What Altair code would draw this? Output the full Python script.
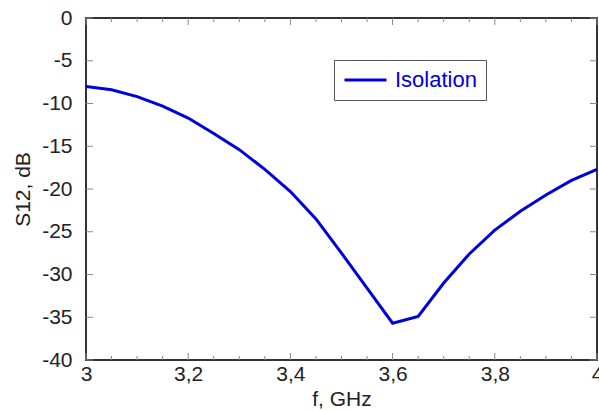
import altair as alt
import pandas as pd

freq = [3.00, 3.05, 3.10, 3.15, 3.20, 3.25, 3.30, 3.35, 3.40, 3.45, 3.50,
        3.55, 3.60, 3.65, 3.70, 3.75, 3.80, 3.85, 3.90, 3.95, 4.00]
s12 = [-8.0, -8.4, -9.2, -10.3, -11.7, -13.5, -15.4, -17.7, -20.3, -23.5, -27.5,
       -31.6, -35.7, -34.9, -31.0, -27.6, -24.8, -22.6, -20.7, -19.0, -17.7]
series = ["Isolation"] * len(freq)

x_major = [3.0, 3.2, 3.4, 3.6, 3.8, 4.0]
x_minor = [3.05, 3.1, 3.15, 3.25, 3.3, 3.35, 3.45, 3.5, 3.55, 3.65, 3.7, 3.75, 3.85, 3.9, 3.95]
y_major = [0, -5, -10, -15, -20, -25, -30, -35, -40]

W, H = 511, 342
FONT = "Liberation Sans"
BLUE = "#0000DD"
TICK = "#888888"

df = pd.DataFrame({"f": freq, "s12": s12, "series": series})
xmaj = pd.DataFrame({"t": x_major})
xmin = pd.DataFrame({"t": x_minor})
ymaj = pd.DataFrame({"t": y_major})

xscale = alt.Scale(domain=[3, 4], nice=False, zero=False)
yscale = alt.Scale(domain=[-40, 0], nice=False, zero=False)

line = alt.Chart(df).mark_line(strokeWidth=3, clip=True).encode(
    x=alt.X("f:Q", scale=xscale,
            axis=alt.Axis(values=x_major, title="f, GHz", ticks=False, domain=False,
                          grid=False, labelFlush=False, labelOverlap=False, labelBound=False,
                          labelExpr="replace(format(datum.value, '.1~f'), '.', ',')",
                          labelPadding=3, titlePadding=4)),
    y=alt.Y("s12:Q", scale=yscale,
            axis=alt.Axis(values=y_major, title="S12, dB", ticks=False, domain=False,
                          grid=False, labelPadding=14, titlePadding=8,
                          labelExpr="'' + datum.value")),
    color=alt.Color("series:N",
                    scale=alt.Scale(domain=["Isolation"], range=[BLUE]),
                    legend=alt.Legend(title=None, orient="none", legendX=248, legendY=42,
                                      symbolType="stroke", symbolSize=1764,
                                      symbolStrokeWidth=3, labelFontSize=22,
                                      labelColor=BLUE, labelFont=FONT, labelOffset=7,
                                      padding=9, strokeColor="#555555",
                                      fillColor="white", clipHeight=22)),
)

def xticks(data, length):
    bottom = alt.Chart(data).mark_rule(color=TICK, strokeWidth=1).encode(
        x=alt.X("t:Q", scale=xscale), y=alt.value(H), y2=alt.value(H - length))
    top = alt.Chart(data).mark_rule(color=TICK, strokeWidth=1).encode(
        x=alt.X("t:Q", scale=xscale), y=alt.value(0), y2=alt.value(length))
    return [bottom, top]

yl = alt.Chart(ymaj).mark_rule(color=TICK, strokeWidth=1).encode(
    y=alt.Y("t:Q", scale=yscale), x=alt.value(0), x2=alt.value(7))
yr = alt.Chart(ymaj).mark_rule(color=TICK, strokeWidth=1).encode(
    y=alt.Y("t:Q", scale=yscale), x=alt.value(W), x2=alt.value(W - 7))

chart = alt.layer(
    *xticks(xmaj, 7), *xticks(xmin, 4), yl, yr, line
).properties(
    width=W, height=H,
    background="white",
    autosize=alt.AutoSizeParams(type="none"),
    padding={"left": 86, "top": 18, "right": 2, "bottom": 51},
).configure_view(
    stroke="#333333", strokeWidth=2
).configure_axis(
    labelFont=FONT, titleFont=FONT, labelFontSize=21, titleFontSize=21,
    labelColor="#222222", titleColor="#222222", titleFontWeight="normal"
)

chart.save("out.html", embed_options={"renderer": "svg", "actions": False})
